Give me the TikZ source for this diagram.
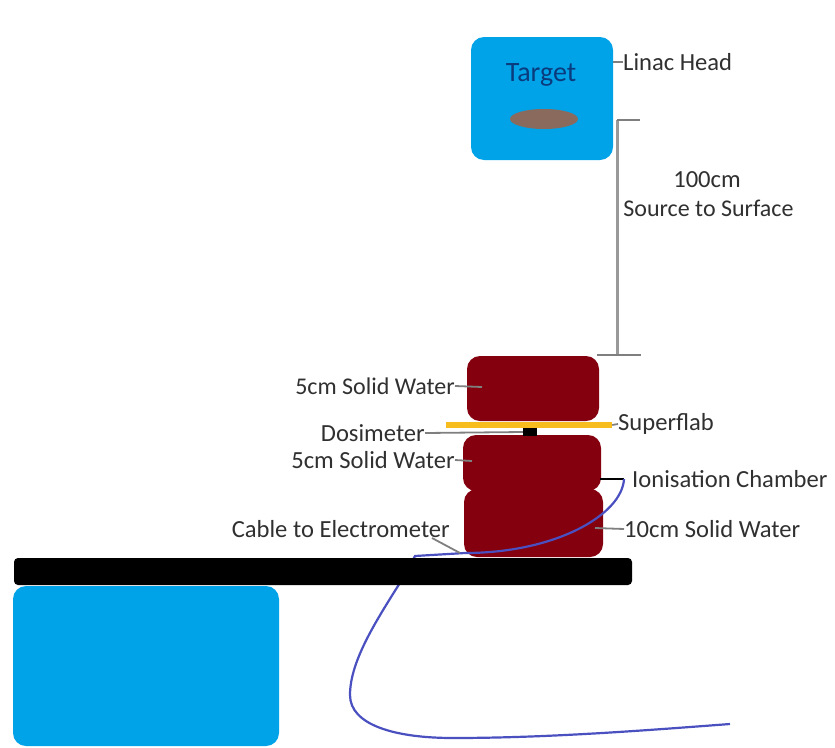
\documentclass[tikz,border=0pt]{standalone}
\usepackage{fontspec}
\setmainfont{Carlito}
\usetikzlibrary{positioning, calc, shapes.geometric}
\definecolor{headblue}{HTML}{00A2E8}
\definecolor{waterred}{HTML}{85000F}
\definecolor{flabyellow}{HTML}{F7BC1E}
\definecolor{targetbrown}{HTML}{8A6A5C}
\definecolor{targettext}{HTML}{0A3C7D}
\definecolor{cableblue}{HTML}{4A50C0}
\definecolor{leadgrey}{HTML}{7F7F7F}
\definecolor{labelink}{HTML}{303030}

\begin{document}
\begin{tikzpicture}[x=1pt, y=-1pt,
      block/.style={rectangle, rounded corners=13pt, inner sep=0pt, fill=#1},
      lbl/.style={font=\fontsize{24.6}{26}\selectfont, text=labelink, inner sep=0pt},
      lead/.style={draw=leadgrey, line width=1.8pt},
      dim/.style={draw=leadgrey!80, line width=3pt},
      cable/.style={draw=cableblue, line width=2.2pt}]
    \useasboundingbox (0,0) rectangle (835,747);
    % linac head
    \node[block=headblue, minimum width=142pt, minimum height=123pt] (head) at (542,98.5) {};
    \node[lbl, text=targettext, font=\fontsize{28}{30}\selectfont] (target) at (541,75) {Target};
    \node[ellipse, fill=targetbrown, minimum width=68pt, minimum height=20pt, inner sep=0pt] (spot) at (544,119) {};
    \node[lbl, anchor=west] (linac) at (623,62) {Linac Head};
    \draw[lead] (linac.west) -- (head.east |- linac.west);
    % distance bar
    \coordinate (toptick) at (617,120);
    \coordinate (bottick) at (617,355);
    \coordinate (topend) at (640,120);
    \coordinate (botleft) at (597,355);
    \coordinate (botright) at (641,355);
    \draw[dim] (toptick) -- (bottick);
    \draw[lead] (toptick) -- (topend);
    \draw[lead] (botleft) -- (botright);
    \node[lbl] (dist) at (707,180) {100cm};
    \node[lbl, font=\fontsize{24}{26}\selectfont] (surface) at (708.5,208) {Source to Surface};
    % solid water stack
    \node[block=waterred, minimum width=132pt, minimum height=65pt] (water1) at (533,388.5) {};
    \node[block=waterred, minimum width=138pt, minimum height=56pt] (water2) at (532,463) {};
    \node[block=waterred, minimum width=139pt, minimum height=68pt] (water3) at (533.5,523) {};
    \node[rectangle, fill=flabyellow, minimum width=166pt, minimum height=6pt, inner sep=0pt] (flab) at (529,425) {};
    \node[rectangle, fill=black, minimum width=14pt, minimum height=8pt, inner sep=0pt] (dose) at (530,432) {};
    % chamber and cable
    \coordinate (chamberin) at (600,479);
    \coordinate (chamberout) at (624,479);
    \coordinate (cablebend) at (465,553);
    \coordinate (cablestep) at (415,556);
    \coordinate (cableend) at (730,724);
    \draw[black, line width=2.6pt] (chamberin) -- (chamberout);
    \draw[cable] (chamberout) .. controls (622,515) and (555,553) .. (cablebend)
      -- (cablestep) -- (403,578)
      .. controls (378,618) and (350,660) .. (350,695)
      .. controls (350,725) and (395,738) .. (453,738)
      .. controls (550,738) and (650,730) .. (cableend);
    % couch
    \node[rectangle, rounded corners=4pt, fill=black, minimum width=618pt, minimum height=27pt, inner sep=0pt] (couch) at (323,571.5) {};
    \node[block=headblue, minimum width=266pt, minimum height=160pt] (base) at (146,666) {};
    % labels round the stack
    \node[lbl, anchor=east, font=\fontsize{24}{26}\selectfont] (upper) at (455,386) {5cm Solid Water};
    \node[lbl, anchor=east] (dosim) at (425,433) {Dosimeter};
    \node[lbl, anchor=east] (lower) at (455,460) {5cm Solid Water};
    \node[lbl, anchor=west] (super) at (618,424) {Superflab};
    \node[lbl, anchor=west] (ion) at (632,479) {Ionisation Chamber};
    \node[lbl, anchor=west] (ten) at (624,529) {10cm Solid Water};
    \node[lbl, anchor=east] (elec) at (450,529) {Cable to Electrometer};
    \coordinate (upperin) at (482,387);
    \coordinate (lowerin) at (472,461);
    \coordinate (tenin) at (595,528);
    \coordinate (elecin) at (460,553);
    \coordinate (elecout) at (432,538);
    \draw[lead] (upper.east) -- (upperin);
    \draw[lead] (dosim.east) -- (dose.west);
    \draw[lead] (lower.east) -- (lowerin);
    \draw[lead] (super.west) -- (flab.east);
    \draw[lead] (ten.west) -- (tenin);
    \draw[lead] (elecout) -- (elecin);
  \end{tikzpicture}
\end{document}
